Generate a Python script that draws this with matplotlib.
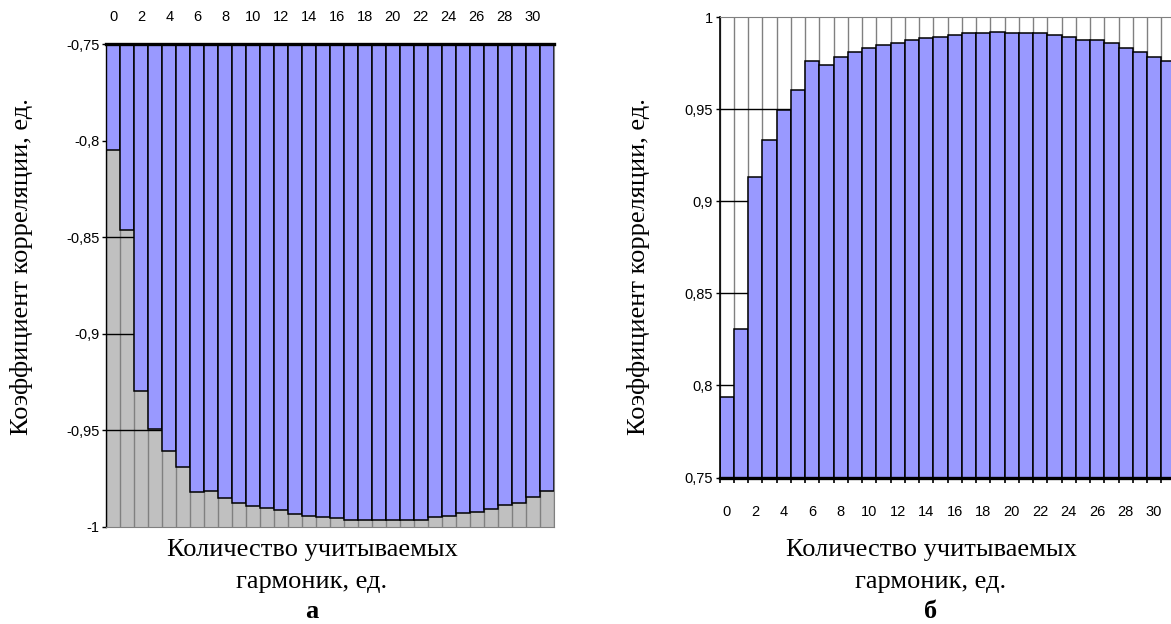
import matplotlib
matplotlib.use("Agg")
import matplotlib.pyplot as plt
from matplotlib.ticker import FixedLocator, FuncFormatter

harmonics = list(range(32))
corr_a = [-0.8049, -0.8465, -0.9296, -0.9495, -0.9607, -0.9694, -0.9822, -0.9814,
          -0.9850, -0.9879, -0.9892, -0.9906, -0.9915, -0.9937, -0.9945, -0.9951,
          -0.9956, -0.9964, -0.9964, -0.9964, -0.9964, -0.9964, -0.9964, -0.9951,
          -0.9945, -0.9931, -0.9923, -0.9910, -0.9890, -0.9876, -0.9847, -0.9817]
corr_b = [0.7940, 0.8305, 0.9130, 0.9332, 0.9496, 0.9607, 0.9761, 0.9739,
          0.9786, 0.9813, 0.9832, 0.9851, 0.9861, 0.9878, 0.9886, 0.9895,
          0.9906, 0.9913, 0.9913, 0.9922, 0.9913, 0.9913, 0.9913, 0.9906,
          0.9895, 0.9877, 0.9877, 0.9859, 0.9832, 0.9813, 0.9786, 0.9761]
yticks_a = [-0.75, -0.8, -0.85, -0.9, -0.95, -1.0]
yticks_b = [1.0, 0.95, 0.9, 0.85, 0.8, 0.75]
xtick_labels = list(range(0, 31, 2))

ylabel = "Коэффициент корреляции, ед."
xlabel = "Количество учитываемых\nгармоник, ед."
panel_a = "а"
panel_b = "б"

W, H = 1171, 624
DPI = 100
fig = plt.figure(figsize=(W / DPI, H / DPI), dpi=DPI)
fig.patch.set_facecolor("white")

BLUE = "#9999FF"
GREY = "#C0C0C0"
GRID_V = "#808080"
narrow = ["Liberation Sans Narrow", "Liberation Sans", "DejaVu Sans"]
serif = ["Liberation Serif", "DejaVu Serif"]
TICK_FS = 10.5
TITLE_FS = 19
PT = 72.0 / DPI  # points per pixel


def px_axes(x0, x1, ytop, ybot):
    return fig.add_axes([x0 / W, 1 - ybot / H, (x1 - x0) / W, (ybot - ytop) / H])


def comma(v, pos=None):
    return ("%g" % v).replace(".", ",")


def style_ticklabels(labels):
    for lab in labels:
        lab.set_family(narrow)
        lab.set_fontsize(TICK_FS)
        lab.set_fontstretch("condensed")


# ---------------- left chart (а) ----------------
axa = px_axes(106.5, 553.5, 44.3, 526.5)
axa.set_facecolor(GREY)
axa.set_xlim(-0.5, 31.5)
axa.set_ylim(-1.0, -0.75)
top = -0.75
for k in range(33):
    axa.axvline(k - 0.5, color=GRID_V, lw=1.0, zorder=1)
for t in yticks_a[1:-1]:
    axa.axhline(t, color="black", lw=1.0, zorder=1)
axa.bar(harmonics, [v - top for v in corr_a], bottom=top, width=1.0,
        color=BLUE, edgecolor="black", linewidth=1.1, zorder=2)
axa.xaxis.tick_top()
axa.set_xticks(xtick_labels)
axa.set_xticklabels([str(v) for v in xtick_labels])
axa.tick_params(axis="x", length=0, pad=20 * PT)
axa.set_yticks(yticks_a)
axa.yaxis.set_major_formatter(FuncFormatter(comma))
axa.tick_params(axis="y", length=4 * PT, width=1, direction="out", pad=3 * PT)
style_ticklabels(axa.get_xticklabels() + axa.get_yticklabels())
axa.spines["top"].set_linewidth(2.4)
axa.spines["top"].set_color("black")
axa.spines["left"].set_color("black")
axa.spines["left"].set_linewidth(1.0)
axa.spines["bottom"].set_color(GRID_V)
axa.spines["right"].set_color(GRID_V)

# ---------------- right chart (б) ----------------
axb = px_axes(719.5, 1175.5, 17.3, 477.5)
axb.set_facecolor("white")
axb.set_xlim(-0.5, 31.5)
axb.set_ylim(0.75, 1.0)
base = 0.75
for k in range(33):
    axb.axvline(k - 0.5, color=GRID_V, lw=1.0, zorder=1)
for t in yticks_b[1:-1]:
    axb.axhline(t, color="black", lw=1.0, zorder=1)
axb.bar(harmonics, [v - base for v in corr_b], bottom=base, width=1.0,
        color=BLUE, edgecolor="black", linewidth=1.1, zorder=2)
axb.set_xticks(xtick_labels)
axb.set_xticklabels([str(v) for v in xtick_labels])
axb.xaxis.set_minor_locator(FixedLocator([k - 0.5 for k in range(33)]))
axb.tick_params(axis="x", which="major", length=0, pad=27 * PT)
axb.tick_params(axis="x", which="minor", length=5 * PT, width=1.2, direction="out",
                color="black")
axb.set_yticks(yticks_b)
axb.yaxis.set_major_formatter(FuncFormatter(comma))
axb.tick_params(axis="y", length=4 * PT, width=1, direction="out", pad=3 * PT)
style_ticklabels(axb.get_xticklabels() + axb.get_yticklabels())
axb.spines["bottom"].set_linewidth(2.4)
axb.spines["bottom"].set_color("black")
axb.spines["left"].set_color("black")
axb.spines["left"].set_linewidth(1.2)
axb.spines["top"].set_color(GRID_V)
axb.spines["right"].set_visible(False)


# ---------------- texts ----------------
def ftext(x, y, s, **kw):
    fig.text(x / W, 1 - y / H, s, **kw)


ftext(22, 267, ylabel, rotation=90, ha="center", va="center", family=serif,
      fontsize=TITLE_FS)
ftext(638, 267, ylabel, rotation=90, ha="center", va="center", family=serif,
      fontsize=TITLE_FS)

line1, line2 = xlabel.split("\n")
for cx, p in ((312, panel_a), (931, panel_b)):
    ftext(cx, 550, line1, ha="center", va="center", family=serif, fontsize=TITLE_FS)
    ftext(cx, 582, line2, ha="center", va="center", family=serif, fontsize=TITLE_FS)
    ftext(cx, 612, p, ha="center", va="center", family=serif, fontsize=TITLE_FS,
          fontweight="bold")

fig.savefig("out.png", dpi=DPI, facecolor="white")
